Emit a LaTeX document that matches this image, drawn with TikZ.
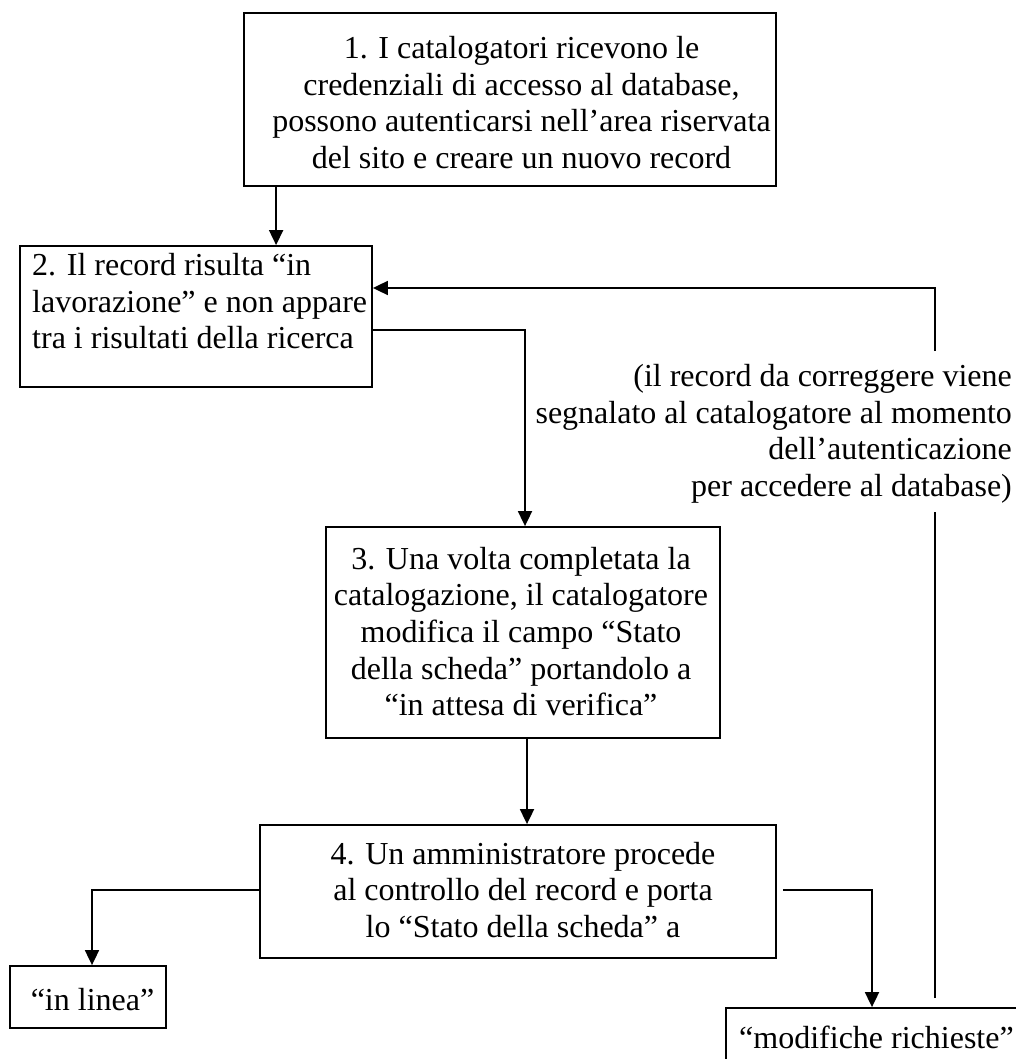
\documentclass[tikz,border=0pt]{standalone}
\usepackage{fontspec}
\setmainfont{Liberation Serif}
\usetikzlibrary{arrows.meta}
\begin{document}
\begin{tikzpicture}[x=1pt,y=-1pt,
  box/.style={draw, line width=1.8pt, inner sep=0pt, rectangle},
  txt/.style={inner sep=0pt, font=\fontsize{32}{36.7}\selectfont},
  arr/.style={line width=1.8pt, -{Triangle[length=15pt,width=14pt]}},
  ln/.style={line width=1.8pt}]
\useasboundingbox (0,0) rectangle (1016,1059);
\clip (0,0) rectangle (1016,1059);
\fill[white] (0,0) rectangle (1016,1059);
% boxes
\node[box, minimum width=532pt, minimum height=173pt] (b1) at (510,99.5) {};
\node[box, minimum width=352pt, minimum height=141pt] (b2) at (196,316.5) {};
\node[box, minimum width=394pt, minimum height=211pt] (b3) at (523,632.5) {};
\node[box, minimum width=516pt, minimum height=133pt] (b4) at (518,891.5) {};
\node[box, minimum width=156pt, minimum height=62pt] (b5) at (88,997) {};
\node[box, minimum width=304pt, minimum height=67pt] (b6) at (878,1041.5) {};
% texts
\node[txt, align=center, anchor=north] (t1) at (521.5,32.5)
  {\strut 1. I catalogatori ricevono le\\\strut credenziali di accesso al database,\\\strut possono autenticarsi nell’area riservata\\\strut del sito e creare un nuovo record};
\node[txt, align=left, anchor=north west] (t2) at (32,249.5)
  {\strut 2. Il record risulta “in\\\strut lavorazione” e non appare\\\strut tra i risultati della ricerca};
\node[txt, align=center, anchor=north] (t3) at (521,543.3)
  {\strut 3. Una volta completata la\\\strut catalogazione, il catalogatore\\\strut modifica il campo “Stato\\\strut della scheda” portandolo a\\\strut “in attesa di verifica”};
\node[txt, align=center, anchor=north] (t4) at (523,838.3)
  {\strut 4. Un amministratore procede\\\strut al controllo del record e porta\\\strut lo “Stato della scheda” a};
\node[txt, anchor=base] (t5) at (92.5,1010) {“in linea”};
\node[txt, anchor=base west] (t6) at (739,1048) {“modifiche richieste”};
\node[txt, align=right, anchor=north east] (lab) at (1012,360.5)
  {\strut (il record da correggere viene\\\strut segnalato al catalogatore al momento\\\strut dell’autenticazione\\\strut per accedere al database)};
% connectors
\draw[arr] ([xshift=33pt]b1.south west) -- ([xshift=33pt]b1.south west |- b2.north);
\draw[arr] ([yshift=-13.5pt]b2.east) -| ([xshift=2pt]b3.north);
\draw[arr] ([xshift=4pt]b3.south) -- ([xshift=4pt]b3.south |- b4.north);
\draw[arr] ([yshift=1.5pt]b4.west) -| ([xshift=4pt]b5.north);
\draw[arr] ([xshift=6pt,yshift=1.5pt]b4.east) -| ([xshift=-6pt]b6.north);
\coordinate (fa) at (935,998);
\coordinate (fb) at (935,512);
\coordinate (fc) at (935,351);
\draw[ln] (fa) -- (fb);
\draw[arr] (fc) |- ([yshift=28.5pt]b2.east);
\end{tikzpicture}
\end{document}
